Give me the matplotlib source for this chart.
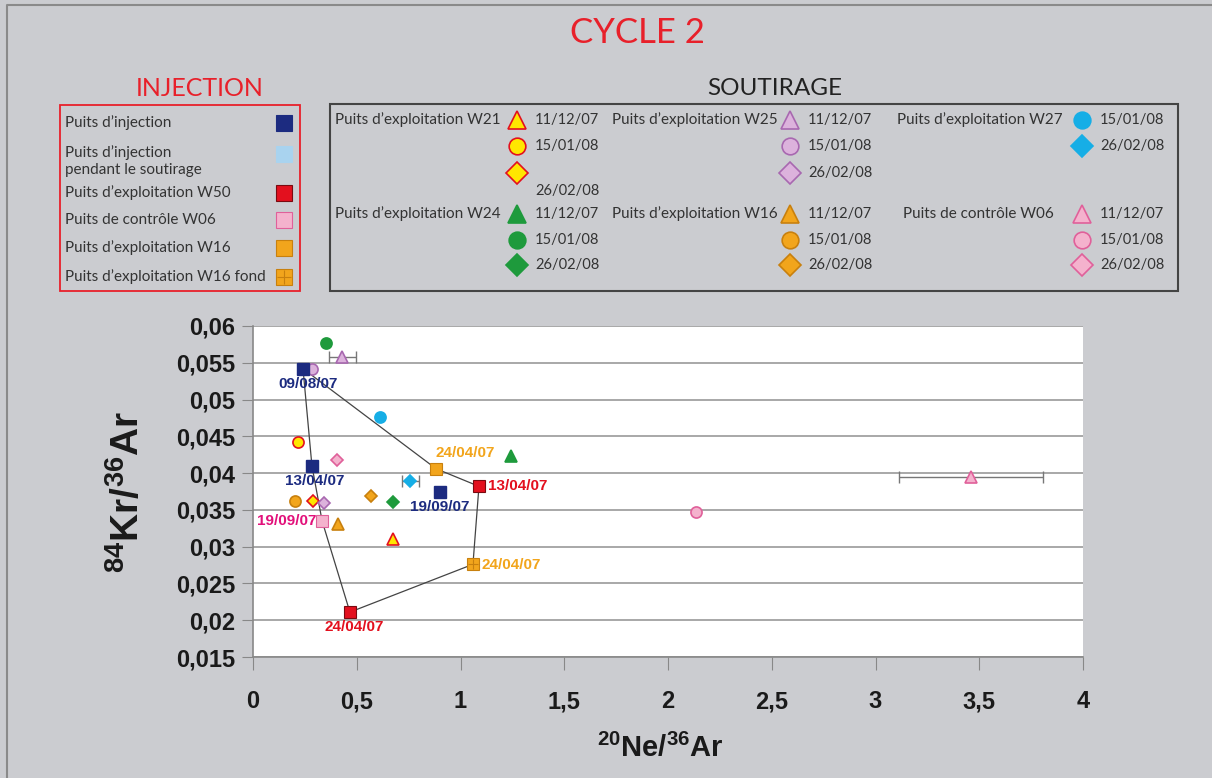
import matplotlib
matplotlib.use('Agg')
import matplotlib.pyplot as plt
from matplotlib.patches import Rectangle

plt.rcParams['font.family'] = ['Lato', 'DejaVu Sans']
plt.rcParams['mathtext.fontset'] = 'custom'
plt.rcParams['mathtext.rm'] = 'Liberation Sans:bold'
plt.rcParams['mathtext.bf'] = 'Liberation Sans:bold'

# axes
x_ticks = [0, 0.5, 1, 1.5, 2, 2.5, 3, 3.5, 4]
x_tick_labels = ['0', '0,5', '1', '1,5', '2', '2,5', '3', '3,5', '4']
y_ticks = [0.015, 0.02, 0.025, 0.03, 0.035, 0.04, 0.045, 0.05, 0.055, 0.06]
y_tick_labels = ['0,015', '0,02', '0,025', '0,03', '0,035', '0,04', '0,045', '0,05', '0,055', '0,06']

# injection phase points (with dates)
inj_x = [0.241, 0.284, 0.901]
inj_y = [0.0542, 0.0410, 0.0374]
inj_dates = ['09/08/07', '13/04/07', '19/09/07']
w50_x = [1.089, 0.467]
w50_y = [0.0382, 0.0211]
w50_dates = ['13/04/07', '24/04/07']
w06c_x = [0.333]
w06c_y = [0.0335]
w06c_dates = ['19/09/07']
w16_x = [0.882]
w16_y = [0.0406]
w16_dates = ['24/04/07']
w16f_x = [1.060]
w16f_y = [0.0276]
w16f_dates = ['24/04/07']

# soutirage points: order 11/12/07, 15/01/08, 26/02/08
sout_dates = ['11/12/07', '15/01/08', '26/02/08']
w21_x = [0.675, 0.217, 0.289]
w21_y = [0.0310, 0.0442, 0.0362]
w24_x = [1.243, 0.352, 0.675]
w24_y = [0.0423, 0.0577, 0.0361]
w25_x = [0.429, 0.284, 0.342]
w25_y = [0.0558, 0.0542, 0.0359]
w27_x = [0.612, 0.757]          # 15/01/08, 26/02/08
w27_y = [0.0476, 0.0389]
w16s_x = [0.410, 0.202, 0.569]
w16s_y = [0.0331, 0.0362, 0.0369]
w06_x = [3.460, 2.135, 0.405]
w06_y = [0.0395, 0.0347, 0.0418]
w25_xerr = 0.065
w27_xerr = 0.041
w06_xerr = 0.345

inj_legend = ['Puits d\u2019injection', 'Puits d\u2019injection\npendant le soutirage',
              'Puits d\u2019exploitation W50', 'Puits de contr\u00f4le W06',
              'Puits d\u2019exploitation W16', 'Puits d\u2019exploitation W16 fond']
sout_wells = ['Puits d\u2019exploitation W21', 'Puits d\u2019exploitation W25',
              'Puits d\u2019exploitation W27', 'Puits d\u2019exploitation W24',
              'Puits d\u2019exploitation W16', 'Puits de contr\u00f4le W06']

# colours
NAVY = '#1c2b80'
LBLUE = '#a9d3ef'
RED = '#e3101e'
PINK = '#f4b2cd'
PINK_E = '#e0609a'
ORANGE = '#f2a51c'
ORANGE_E = '#c8800e'
YELLOW = '#ffe600'
GREEN = '#1e9a3c'
LILAC = '#dcb2dc'
LILAC_E = '#a868b0'
CYAN = '#16aee6'
MAGENTA = '#e2107a'
BG = '#cbccd0'
TXT = '#333333'

W, H = 1212, 778
fig = plt.figure(figsize=(W / 100, H / 100), dpi=100, facecolor=BG)

# overlay in pixel coordinates for titles / legends
ov = fig.add_axes([0, 0, 1, 1], zorder=0)
ov.set_xlim(0, W)
ov.set_ylim(H, 0)
ov.axis('off')
ov.plot([7, 7, W], [H, 5, 5], color='#8a8a8a', lw=1.5)

ov.text(637, 33, 'CYCLE 2', color='#e8202a', fontsize=25, ha='center', va='center')
ov.text(200, 88, 'INJECTION', color='#e8202a', fontsize=18, ha='center', va='center')
ov.text(775, 88, 'SOUTIRAGE', color='#222222', fontsize=17.5, ha='center', va='center')

# injection legend box
ov.add_patch(Rectangle((60, 105), 240, 186, fill=False, ec='#e8202a', lw=1.3))
leg_y = [123, 161, 193, 220, 248, 277]
leg_fc = [NAVY, LBLUE, RED, PINK, ORANGE, ORANGE]
leg_ec = [NAVY, LBLUE, '#7a0a10', PINK_E, ORANGE_E, ORANGE_E]
for lab, yy, fc, ec in zip(inj_legend, leg_y, leg_fc, leg_ec):
    ov.text(65, yy, lab, fontsize=11, color=TXT, ha='left', va='center', linespacing=1.35)
    my = yy - 7 if '\n' in lab else yy
    ov.plot(284, my, 's', ms=12, mfc=fc, mec=ec, mew=0.8)
ov.plot(284, 277, '+', ms=10, color=ORANGE_E, mew=0.8)

# soutirage legend box
ov.add_patch(Rectangle((330, 104), 848, 187, fill=False, ec='#444444', lw=1.5))
col_lab_x = [335, 612, 897, 335, 612, 903]
col_mk_x = [517, 790, 1082, 517, 790, 1082]
grp_y = [[120, 146, 173], [120, 146, 173], [120, 146], [214, 240, 265], [214, 240, 265], [214, 240, 265]]
grp_fc = [YELLOW, LILAC, CYAN, GREEN, ORANGE, PINK]
grp_ec = [RED, LILAC_E, CYAN, GREEN, ORANGE_E, PINK_E]
for i, well in enumerate(sout_wells):
    ov.text(col_lab_x[i], grp_y[i][0], well, fontsize=11, color=TXT, ha='left', va='center')
    marks = ['o', 'D'] if len(grp_y[i]) == 2 else ['^', 'o', 'D']
    dates = sout_dates[1:] if len(grp_y[i]) == 2 else sout_dates
    for mk, yy, d in zip(marks, grp_y[i], dates):
        ms = {'^': 13, 'o': 12, 'D': 11}[mk]
        ov.plot(col_mk_x[i], yy, mk, ms=ms, mfc=grp_fc[i], mec=grp_ec[i], mew=1.2)
        ty = yy + 18 if (i == 0 and mk == 'D') else yy
        ov.text(col_mk_x[i] + 18, ty, d, fontsize=10.5, color=TXT, ha='left', va='center')

# main chart
ax = fig.add_axes([253 / W, 1 - 657 / H, 830 / W, 331 / H], zorder=1)
ax.set_facecolor('white')
ax.set_xlim(0, 4)
ax.set_ylim(0.015, 0.06)
ax.set_xticks(x_ticks)
ax.set_xticklabels(x_tick_labels)
ax.set_yticks(y_ticks)
ax.set_yticklabels(y_tick_labels)
for lab in ax.get_xticklabels() + ax.get_yticklabels():
    lab.set_family('Liberation Sans')
    lab.set_weight('bold')
    lab.set_fontsize(17)
    lab.set_color('#1a1a1a')
ax.tick_params(axis='y', direction='out', length=8, color='#888888', pad=5)
ax.tick_params(axis='x', direction='out', length=9, color='#888888', pad=15)
ax.yaxis.grid(True, color='#9a9a9a', lw=1.2)
ax.set_axisbelow(True)
for s in ['top', 'right']:
    ax.spines[s].set_visible(False)
for s in ['left', 'bottom']:
    ax.spines[s].set_color('#888888')
    ax.spines[s].set_linewidth(1.2)

# connecting polygon
px = [inj_x[0], inj_x[1], w06c_x[0], w50_x[1], w16f_x[0], w50_x[0], w16_x[0], inj_x[0]]
py = [inj_y[0], inj_y[1], w06c_y[0], w50_y[1], w16f_y[0], w50_y[0], w16_y[0], inj_y[0]]
ax.plot(px, py, color='#444444', lw=0.9, zorder=2)

# error bars
ax.errorbar([w25_x[0]], [w25_y[0]], xerr=w25_xerr, fmt='none', ecolor='#777777', capsize=4, lw=1, zorder=2)
ax.errorbar([w27_x[1]], [w27_y[1]], xerr=w27_xerr, fmt='none', ecolor='#777777', capsize=4, lw=1, zorder=2)
ax.errorbar([w06_x[0]], [w06_y[0]], xerr=w06_xerr, fmt='none', ecolor='#777777', capsize=4, lw=1, zorder=2)

# soutirage markers
def well(xs, ys, marks, fc, ec):
    for x, y, m in zip(xs, ys, marks):
        ms = {'^': 8.5, 'o': 8, 'D': 6.5}[m]
        ax.plot(x, y, m, ms=ms, mfc=fc, mec=ec, mew=1.2, zorder=3)

well(w21_x, w21_y, ['^', 'o', 'D'], YELLOW, RED)
well(w24_x, w24_y, ['^', 'o', 'D'], GREEN, GREEN)
well(w25_x, w25_y, ['^', 'o', 'D'], LILAC, LILAC_E)
well(w27_x, w27_y, ['o', 'D'], CYAN, CYAN)
well(w16s_x, w16s_y, ['^', 'o', 'D'], ORANGE, ORANGE_E)
well(w06_x, w06_y, ['^', 'o', 'D'], PINK, PINK_E)

# injection markers
ax.plot(inj_x, inj_y, 's', ms=8, mfc=NAVY, mec=NAVY, zorder=4)
ax.plot(w50_x, w50_y, 's', ms=8, mfc=RED, mec='#7a0a10', mew=0.8, zorder=4)
ax.plot(w06c_x, w06c_y, 's', ms=8, mfc=PINK, mec=PINK_E, mew=0.8, zorder=4)
ax.plot(w16_x, w16_y, 's', ms=8, mfc=ORANGE, mec=ORANGE_E, mew=0.8, zorder=4)
ax.plot(w16f_x, w16f_y, 's', ms=8, mfc=ORANGE, mec=ORANGE_E, mew=0.8, zorder=4)
ax.plot(w16f_x, w16f_y, '+', ms=7, color=ORANGE_E, mew=0.8, zorder=5)

# date labels
lab_kw = dict(textcoords='offset pixels', fontsize=11, fontweight='bold',
              family='Liberation Sans', va='center', zorder=6)
ax.annotate(inj_dates[0], (inj_x[0], inj_y[0]), xytext=(5, -15), color=NAVY, ha='center', **lab_kw)
ax.annotate(inj_dates[1], (inj_x[1], inj_y[1]), xytext=(3, -15), color=NAVY, ha='center', **lab_kw)
ax.annotate(inj_dates[2], (inj_x[2], inj_y[2]), xytext=(0, -15), color=NAVY, ha='center', **lab_kw)
ax.annotate(w16_dates[0], (w16_x[0], w16_y[0]), xytext=(29, 16), color=ORANGE, ha='center', **lab_kw)
ax.annotate(w50_dates[0], (w50_x[0], w50_y[0]), xytext=(9, 0), color=RED, ha='left', **lab_kw)
ax.annotate(w16f_dates[0], (w16f_x[0], w16f_y[0]), xytext=(9, -1), color=ORANGE, ha='left', **lab_kw)
ax.annotate(w50_dates[1], (w50_x[1], w50_y[1]), xytext=(4, -15), color=RED, ha='center', **lab_kw)
ax.annotate(w06c_dates[0], (w06c_x[0], w06c_y[0]), xytext=(-6, 0), color=MAGENTA, ha='right', **lab_kw)

# axis titles
fig.text(660 / W, 1 - 748 / H, r'$^{20}$Ne/$^{36}$Ar', fontsize=21, family='Liberation Sans',
         fontweight='bold', ha='center', va='center', color='#1a1a1a')
fig.text(128 / W, 1 - 492 / H, r'$^{84}$Kr/$^{36}$Ar', fontsize=28, family='Liberation Sans',
         fontweight='bold', ha='center', va='center', rotation=90, color='#1a1a1a')

fig.savefig('out.png', dpi=100, facecolor=BG)
